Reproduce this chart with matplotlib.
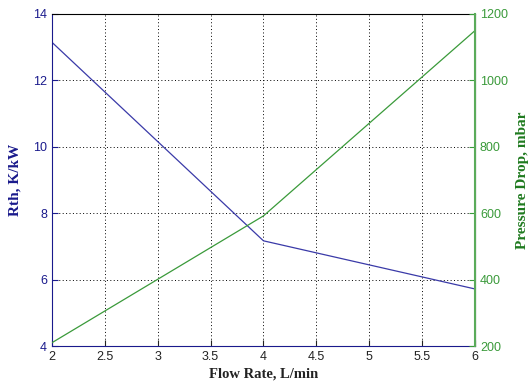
import matplotlib
matplotlib.use("Agg")
import matplotlib.pyplot as plt

flow = [2, 4, 6]
rth = [13.15, 7.17, 5.72]
dp = [210, 592, 1150]

fig = plt.figure(figsize=(5.29, 3.88), dpi=100)
ax1 = fig.add_axes([0.098, 0.108, 0.800, 0.856])
ax2 = ax1.twinx()

blue = "#1a1a8c"
green = "#2e8b2e"

ax1.plot(flow, rth, color="#3a3aa8", lw=0.9)
ax2.plot(flow, dp, color="#3a9a3a", lw=0.9)

ax1.set_xlim(2, 6)
ax1.set_ylim(4, 14)
ax2.set_ylim(200, 1200)
ax1.set_xticks([2, 2.5, 3, 3.5, 4, 4.5, 5, 5.5, 6])
ax1.set_xticklabels(["2", "2.5", "3", "3.5", "4", "4.5", "5", "5.5", "6"])
ax1.set_yticks([4, 6, 8, 10, 12, 14])
ax2.set_yticks([200, 400, 600, 800, 1000, 1200])

ax1.grid(True, ls=(0, (1, 2.5)), color="black", lw=0.7)

tickfont = "Liberation Sans"
for lab in ax1.get_xticklabels() + ax1.get_yticklabels() + ax2.get_yticklabels():
    lab.set_family(tickfont)
    lab.set_fontsize(9)

ax1.tick_params(axis="x", direction="in", colors="#222222", length=4)
ax1.tick_params(axis="y", direction="in", colors=blue, length=4)
ax2.tick_params(axis="y", direction="in", colors="#3a9a3a", length=4)
ax1.tick_params(top=False)

ax1.spines["left"].set_color(blue)
ax1.spines["bottom"].set_color(blue)
ax1.spines["top"].set_color("black")
ax2.spines["right"].set_color("#5aab5a")
ax2.spines["right"].set_linewidth(1.5)
ax2.spines["left"].set_visible(False)
ax2.spines["top"].set_visible(False)
ax2.spines["bottom"].set_visible(False)

ax1.set_xlabel("Flow Rate, L/min", family="Liberation Serif", fontweight="bold",
               fontsize=10.5, color="#222222", labelpad=3)
ax1.set_ylabel("Rth, K/kW", family="Liberation Serif", fontweight="bold",
               fontsize=11, color=blue, labelpad=8)
ax2.set_ylabel("Pressure Drop, mbar", family="Liberation Serif", fontweight="bold",
               fontsize=11, color="#1f7a1f", rotation=90, labelpad=6)

fig.savefig("out.png", dpi=100)
